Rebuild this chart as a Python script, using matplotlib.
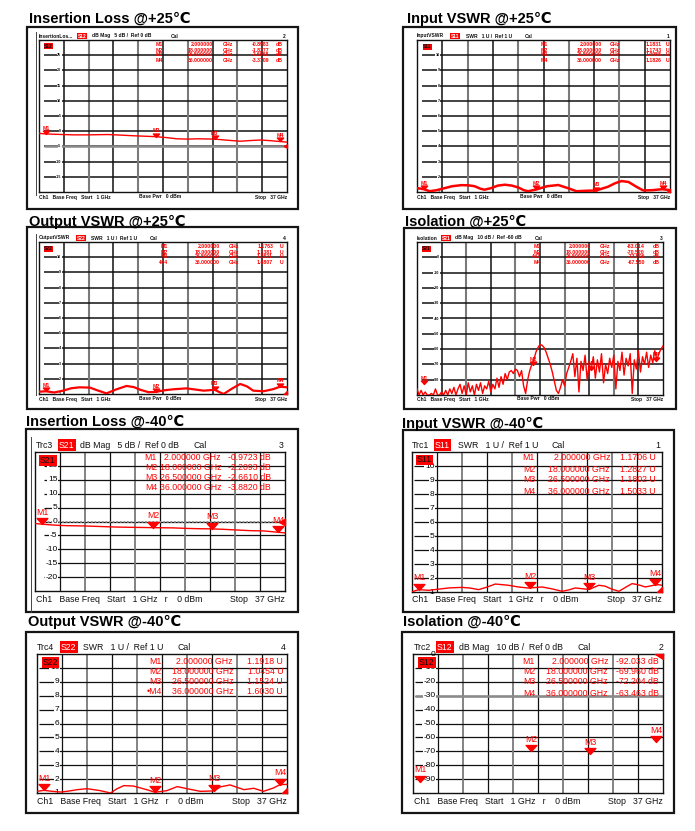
import matplotlib
matplotlib.use('Agg')
import matplotlib.pyplot as plt
from matplotlib.patches import Rectangle
from matplotlib.path import Path
import numpy as np

W, H = 695, 831
plt.rcParams['font.family'] = ['Liberation Sans', 'DejaVu Sans']
RED = '#ff0000'

# sweep (from the footer texts) and marker frequencies
F_START, F_STOP = 1.0, 37.0
mk_freq = [2.0, 18.0, 26.5, 36.0]
mk_names = ['M1', 'M2', 'M3', 'M4']

# ---- +25 C ----
il25_freq = [1.0, 2.0, 4.5, 6.0, 8.0, 11.0, 13.0, 14.7, 18.0, 19.5, 21.0, 22.5, 24.0, 26.5,
             28.0, 30.2, 31.5, 33.1, 34.5, 36.0, 37.0]
il25_db = [-0.7, -0.9, -1.1, -1.2, -1.2, -1.1, -1.3, -1.5, -1.8, -2.1, -2.5, -2.6, -2.5, -2.6,
           -2.9, -3.3, -3.1, -2.9, -3.1, -3.4, -3.6]
il25_mk = [-0.8983, -1.8277, -2.6068, -3.3709]

in25_freq = [1.0, 2.0, 2.8, 3.8, 4.9, 6.0, 7.3, 8.3, 9.2, 10.0, 10.6, 11.5, 12.5, 13.5, 14.5,
             15.4, 16.2, 16.8, 18.0, 19.5, 21.1, 22.5, 23.7, 25.0, 26.5, 28.2, 29.2, 30.1, 31.1,
             32.2, 33.2, 34.5, 35.8, 36.0, 37.0]
in25_swr = [1.26, 1.18, 1.05, 1.12, 1.25, 1.38, 1.45, 1.44, 1.38, 1.22, 1.15, 1.25, 1.42, 1.48,
            1.42, 1.30, 1.12, 1.05, 1.17, 1.38, 1.46, 1.25, 1.05, 1.08, 1.10, 1.35, 1.58, 1.72,
            1.66, 1.35, 1.10, 1.12, 1.18, 1.18, 1.12]
in25_mk = [1.1831, 1.1743, 1.0958, 1.1826]

out25_freq = [1.0, 2.0, 3.2, 4.5, 5.7, 6.9, 8.4, 9.6, 10.8, 12.2, 13.7, 14.8, 15.7, 16.9, 18.0,
              19.3, 20.5, 22.4, 23.6, 24.9, 25.8, 26.5, 27.2, 27.8, 29.0, 30.2, 31.2, 32.1, 33.6,
              35.0, 36.0, 37.0]
out25_swr = [1.15, 1.18, 1.10, 1.22, 1.38, 1.44, 1.42, 1.22, 1.04, 1.30, 1.53, 1.45, 1.28, 1.12,
             1.14, 1.25, 1.31, 1.37, 1.30, 1.22, 1.25, 1.28, 1.12, 1.00, 1.35, 1.66, 1.50, 1.22,
             1.18, 1.32, 1.48, 1.44]
out25_mk = [1.1763, 1.1381, 1.2821, 1.4807]

# isolation +25: values read along the sweep, 0.3 GHz apart
iso25_db = [-86, -90, -87, -90, -88, -90, -90, -89, -90, -86, -90, -90, -88,
            -90, -87, -90, -86, -89, -85, -90, -86, -83, -89, -84, -90,
            -82, -88, -84, -90, -83, -87, -82, -89, -84, -86, -81, -88,
            -83, -86, -79, -85, -78, -83, -76, -80, -75,
            -74, -76, -73, -74, -78, -74, -84, -89, -80,
            -74, -70, -67, -62, -59, -57, -57.5,
            -59, -62, -66, -70, -75, -81, -87, -89,
            -85, -80, -84, -76, -72, -68,
            -63, -78, -66, -88, -68, -74, -64, -80, -70, -73, -65, -79, -67, -75, -63,
            -82, -70, -76, -66, -72, -64, -86, -68, -74, -62, -77, -66, -71, -63, -89,
            -67, -73, -61, -75, -65, -70, -62, -72, -64, -69, -61, -67, -63, -60, -58]
iso25_freq = np.linspace(F_START, F_STOP, len(iso25_db))
iso25_mk = [-83.014, -70.520, -73.506, -67.550]

# ---- -40 C ----
il40_freq = [1.0, 2.0, 3.2, 4.5, 5.6, 8.0, 10.4, 12.8, 15.0, 18.0, 20.9, 23.0, 24.8, 26.5, 28.0,
             29.6, 32.0, 34.0, 36.0, 37.0]
il40_db = [-0.7, -0.97, -1.2, -1.4, -1.5, -1.6, -1.8, -2.0, -2.1, -2.21, -2.3, -2.5, -2.6, -2.66,
           -2.8, -3.0, -3.3, -3.4, -3.88, -4.1]
il40_mk = [-0.9723, -2.2093, -2.6610, -3.8820]

in40_freq = [1.0, 2.0, 3.4, 4.8, 6.3, 8.2, 9.4, 10.6, 11.8, 13.0, 14.9, 16.3, 17.8, 19.7, 21.2,
             22.6, 23.6, 24.5, 26.5, 27.9, 28.8, 29.8, 30.8, 31.8, 32.7, 33.7, 34.6, 35.5, 36.0,
             36.5, 37.0]
in40_swr = [1.02, 1.17, 1.12, 1.20, 1.29, 1.33, 1.28, 1.17, 1.35, 1.57, 1.48, 1.36, 1.28, 1.36,
            1.22, 1.05, 1.15, 1.29, 1.18, 1.48, 1.42, 1.20, 1.05, 1.35, 1.60, 1.50, 1.36, 1.45,
            1.50, 1.52, 1.48]
in40_mk = [1.1706, 1.2827, 1.1802, 1.5033]

out40_freq = [1.0, 2.0, 3.2, 4.4, 5.6, 6.8, 8.2, 10.1, 11.6, 12.5, 13.5, 14.9, 16.8, 18.0, 19.7,
              21.2, 22.6, 24.5, 26.5, 27.4, 28.8, 30.8, 32.2, 33.6, 35.0, 36.0, 37.0]
out40_swr = [1.12, 1.19, 1.12, 1.07, 1.14, 1.24, 1.31, 1.17, 1.00, 1.30, 1.53, 1.50, 1.24, 1.05,
             1.17, 1.46, 1.31, 1.12, 1.15, 1.44, 1.58, 1.24, 1.34, 1.12, 1.35, 1.60, 1.62]
out40_mk = [1.1918, 1.0454, 1.1524, 1.6030]

iso40_mk = [-92.033, -69.960, -72.204, -63.463]

fig = plt.figure(figsize=(W / 100, H / 100), dpi=100)
bg = fig.add_axes([0, 0, 1, 1])
bg.set_xlim(0, W)
bg.set_ylim(H, 0)
bg.axis('off')

TRI = Path([(-0.9, 1), (0.9, 1), (0, 0), (-0.9, 1)], closed=True)
IND = {
    'left': Path([(0, 0.55), (0, -0.55), (-1, 0), (0, 0.55)], closed=True),
    'bottom': Path([(0, 0), (-1, 0), (0, 1), (0, 0)], closed=True),
    'top': Path([(0, 0), (-1.6, 0), (0, -1), (0, 0)], closed=True),
}

panels = [
    dict(title='Insertion Loss @+25℃', title_xy=(29, 23), box=(27, 27, 298, 209), plot=(39, 40, 287, 192),
         small=True, ylim=(-20, 30), yticks=[25, 20, 15, 10, 5, 0, -5, -10, -15], ref=(-5, 'grey'),
         freq=il25_freq, vals=il25_db, mk=il25_mk, fmt='{:.4f}', unit='dB', lw=1.0, ind=('left', -5),
         header_y=36, header=[('t', 'InsertionLos...', 39), ('box', 'S12', 78),
                              ('t', 'dB Mag   5 dB /  Ref 0 dB', 92), ('t', 'Cal', 171), ('r', '2', 286)],
         table=dict(xm=163, xf=213, xg=223, xv=269, xu=276, rows=[44, 50, 55, 61]),
         footer_y=197, footer=[('t', 'Ch1   Base Freq   Start   1 GHz', 39), ('t', 'Base Pwr   0 dBm', 139),
                               ('r', 'Stop   37 GHz', 287)],
         sbox=('S12', 44, 46), frame=(36, 32, 195), dash0=0.2),
    dict(title='Input VSWR @+25℃', title_xy=(407, 23), box=(403, 27, 676, 209), plot=(417, 40, 670, 192),
         small=True, ylim=(1, 11), yticks=[10, 9, 8, 7, 6, 5, 4, 3, 2, 1], ref=None,
         freq=in25_freq, vals=in25_swr, mk=in25_mk, fmt='{:.4f}', unit='U', lw=1.8, ind=('bottom', 1),
         header_y=36, header=[('t', 'InputVSWR', 417), ('box', 'S11', 451),
                              ('t', 'SWR   1 U /  Ref 1 U', 466), ('t', 'Cal', 525), ('r', '1', 669)],
         table=dict(xm=548, xf=602, xg=610, xv=662, xu=666, rows=[44, 50, 55, 61]),
         footer_y=197, footer=[('t', 'Ch1   Base Freq   Start   1 GHz', 417), ('t', 'Base Pwr   0 dBm', 520),
                               ('r', 'Stop   37 GHz', 670)],
         sbox=('S11', 423, 46.5), frame=None, dash0=0.2),
    dict(title='Output VSWR @+25℃', title_xy=(29, 225.7), box=(27, 227, 298, 409), plot=(39, 242, 287, 394),
         small=True, ylim=(1, 11), yticks=[10, 9, 8, 7, 6, 5, 4, 3, 2, 1], ref=None,
         freq=out25_freq, vals=out25_swr, mk=out25_mk, fmt='{:.4f}', unit='U', lw=1.6, ind=('bottom', 1),
         header_y=238, header=[('t', 'OutputVSWR', 39), ('box', 'S22', 77),
                               ('t', 'SWR   1 U /  Ref 1 U', 91), ('t', 'Cal', 150), ('r', '4', 286)],
         table=dict(xm=168, xf=220, xg=229, xv=273, xu=280, rows=[247, 252, 257, 262], dot=3),
         footer_y=399, footer=[('t', 'Ch1   Base Freq   Start   1 GHz', 39), ('t', 'Base Pwr   0 dBm', 139),
                               ('r', 'Stop   37 GHz', 287)],
         sbox=('S22', 44, 248.5), frame=(36, 234, 395), dash0=0.2),
    dict(title='Isolation @+25℃', title_xy=(405, 225.7), box=(404, 228, 676, 409), plot=(417, 242, 663, 395),
         small=True, ylim=(-90, 10), yticks=[0, -10, -20, -30, -40, -50, -60, -70, -80], ref=None,
         freq=iso25_freq, vals=iso25_db, mk=iso25_mk, fmt='{:.3f}', unit='dB', lw=1.0, ind=None,
         header_y=238, header=[('t', 'Isolation', 417), ('box', 'S21', 442),
                               ('t', 'dB Mag   10 dB /  Ref -60 dB', 455), ('t', 'Cal', 535), ('r', '3', 663)],
         table=dict(xm=541, xf=591, xg=600, xv=645, xu=653, rows=[247, 252, 257, 262], dot=2),
         footer_y=399, footer=[('t', 'Ch1   Base Freq   Start   1 GHz', 417), ('t', 'Base Pwr   0 dBm', 517),
                               ('r', 'Stop   37 GHz', 663)],
         sbox=('S21', 422, 248.5), frame=None, dash0=0.2),
    dict(title='Insertion Loss @-40℃', title_xy=(26, 425.7), box=(26, 429, 298, 612), plot=(35, 452, 285, 591),
         small=False, ylim=(-25, 25), yticks=[20, 15, 10, 5, 0, -5, -10, -15, -20], ref=(0, 'dot'),
         freq=il40_freq, vals=il40_db, mk=il40_mk, fmt='{:.4f}', unit='dB', lw=1.0, ind=('left', 0),
         header_y=445, header=[('t', 'Trc3', 36), ('box', 'S21', 59), ('t', 'dB Mag   5 dB /  Ref 0 dB', 80),
                               ('t', 'Cal', 193), ('r', '3', 284)],
         table=dict(xm=157, xf=221, xv=271, rows=[458, 468, 478, 487]),
         footer_y=599, footer=[('t', 'Ch1   Base Freq   Start   1 GHz   r    0 dBm', 36), ('r', 'Stop   37 GHz', 285)],
         sbox=('S21', 40, 460.5), frame=(31, 437, 612), dash0=0.35),
    dict(title='Input VSWR @-40℃', title_xy=(402, 427.7), box=(403, 430, 674, 612), plot=(412, 452, 662, 592),
         small=False, ylim=(1, 11), yticks=[10, 9, 8, 7, 6, 5, 4, 3, 2, 1], ref=None,
         freq=in40_freq, vals=in40_swr, mk=in40_mk, fmt='{:.4f}', unit='U', lw=1.0, ind=('bottom', 1),
         header_y=445, header=[('t', 'Trc1', 412), ('box', 'S11', 435), ('t', 'SWR   1 U /  Ref 1 U', 458),
                               ('t', 'Cal', 551), ('r', '1', 660)],
         table=dict(xm=535, xf=610, xv=656, rows=[458, 469, 480, 491]),
         footer_y=599, footer=[('t', 'Ch1   Base Freq   Start   1 GHz   r    0 dBm', 412), ('r', 'Stop   37 GHz', 662)],
         sbox=('S11', 417, 460), frame=None, dash0=0.07),
    dict(title='Output VSWR @-40℃', title_xy=(28, 626), box=(26, 632, 298, 813), plot=(37, 654, 287, 793),
         small=False, ylim=(1, 11), yticks=[10, 9, 8, 7, 6, 5, 4, 3, 2, 1], ref=None,
         freq=out40_freq, vals=out40_swr, mk=out40_mk, fmt='{:.4f}', unit='U', lw=1.0, ind=('bottom', 1),
         header_y=647, header=[('t', 'Trc4', 37), ('box', 'S22', 61), ('t', 'SWR   1 U /  Ref 1 U', 83),
                               ('t', 'Cal', 177), ('r', '4', 286)],
         table=dict(xm=162, xf=233, xv=283, rows=[662, 672, 682, 692], dot=3),
         footer_y=801, footer=[('t', 'Ch1   Base Freq   Start   1 GHz   r    0 dBm', 37), ('r', 'Stop   37 GHz', 287)],
         sbox=('S22', 43, 662.5), frame=None, dash0=0.07),
    dict(title='Isolation @-40℃', title_xy=(403, 626), box=(402, 632, 674, 813), plot=(413, 654, 663, 793),
         small=False, ylim=(-100, 0), yticks=[0, -10, -20, -30, -40, -50, -60, -70, -80, -90], ref=(-30, 'grey'),
         freq=None, vals=None, mk=iso40_mk, fmt='{:.3f}', unit='dB', lw=1.0, ind=('top', 0),
         header_y=647, header=[('t', 'Trc2', 414), ('box', 'S12', 437), ('t', 'dB Mag   10 dB /  Ref 0 dB', 459),
                               ('t', 'Cal', 577), ('r', '2', 663)],
         table=dict(xm=535, xf=608, xv=659, rows=[661, 672, 682, 693]),
         footer_y=801, footer=[('t', 'Ch1   Base Freq   Start   1 GHz   r    0 dBm', 414), ('r', 'Stop   37 GHz', 663)],
         sbox=('S12', 419, 662.5), frame=None, dash0=0.07),
]


def draw_panel(p):
    small = p['small']
    fs = 3.6 if small else 6.3
    tfs = 2.6 if small else 6.0
    wt = 'bold' if small else 'normal'
    bx0, by0, bx1, by1 = p['box']
    bg.add_patch(Rectangle((bx0, by0), bx1 - bx0, by1 - by0, fill=False, lw=1.6, ec='#151515'))
    bg.text(*p['title_xy'], p['title'], fontsize=10.5, fontweight='bold', ha='left', va='baseline')
    if p['frame']:
        fx, fy0, fy1 = p['frame']
        bg.plot([fx, fx], [fy0, fy1], color='#444', lw=0.7)

    px0, py0, px1, py1 = p['plot']
    ax = fig.add_axes([px0 / W, 1 - py1 / H, (px1 - px0) / W, (py1 - py0) / H])
    lo, hi = p['ylim']
    ax.set_xlim(F_START, F_STOP)
    ax.set_ylim(lo, hi)
    ax.set_xticks([])
    ax.set_yticks([])
    for s in ax.spines.values():
        s.set_color('#111')
        s.set_linewidth(1.0)
    xdiv = (F_STOP - F_START) / 10
    ydiv = (hi - lo) / 10
    glw = 1.1 if small else 0.9
    for k in range(1, 10):
        grey = k % 2 == 0
        ax.axvline(F_START + k * xdiv, color='#7a7a7a' if grey else '#111',
                   lw=glw + 0.4 if grey else glw, zorder=1)
        ax.hlines(lo + k * ydiv, F_START + p['dash0'] * xdiv, F_STOP, color='#111', lw=glw, zorder=1)
    if p['ref']:
        rv, kind = p['ref']
        if kind == 'dot':
            ax.hlines(rv, F_START + p['dash0'] * xdiv, F_STOP, color='#8a8a8a', lw=1.3,
                      linestyles=(0, (1, 1)), zorder=1.5)
        else:
            ax.hlines(rv, F_START + p['dash0'] * xdiv, F_STOP, color='#8a8a8a', lw=1.8, zorder=1.5)

    for t in p['yticks']:
        edge = t in (lo, hi)
        ax.text(F_START + 0.9 * xdiv, t, f'{t:g}', ha='right', va='center', fontsize=tfs, fontweight=wt,
                zorder=3, clip_on=False,
                bbox=None if edge else dict(boxstyle='square,pad=0.1', fc='white', ec='none'))

    if p['freq'] is not None:
        ax.plot(p['freq'], p['vals'], color=RED, lw=p['lw'], zorder=4)

    ms = 5.0 if small else 8.6
    ax.plot(mk_freq, p['mk'], ls='none', marker=TRI, ms=ms, color=RED, mec=RED, zorder=6, clip_on=False)
    for name, f, v in zip(mk_names, mk_freq, p['mk']):
        ax.annotate(name, (f, v), xytext=(0, 4.2 if small else 8.6), textcoords='offset points',
                    ha='center', va='center', color=RED, fontsize=3.8 if small else 6.3,
                    fontweight=wt, zorder=7, annotation_clip=False)
    if p['ind']:
        kind, rv = p['ind']
        isz = 4.5 if small else {'left': 8.6, 'bottom': 7.2, 'top': 11.5}[kind]
        ax.plot([F_STOP], [rv], ls='none', marker=IND[kind], ms=isz, color=RED, mec=RED,
                zorder=7, clip_on=False)

    T = bg.transData
    # header line
    hy = p['header_y']
    for kind, s, x in p['header']:
        if kind == 'box':
            ax.text(x, hy, s, transform=T, color='white', fontsize=fs, fontweight=wt, ha='left', va='center',
                    clip_on=False, bbox=dict(boxstyle='square,pad=0.12', fc=RED, ec='none'))
        else:
            ax.text(x, hy, s, transform=T, color='#111', fontsize=fs, fontweight=wt, clip_on=False,
                    ha='right' if kind == 'r' else 'left', va='center')
    # trace label inside the grid
    s, sx, sy = p['sbox']
    ax.text(sx, sy, s, transform=T, color='#111', fontsize=fs, fontweight=wt, ha='left', va='center',
            zorder=8, clip_on=False, bbox=dict(boxstyle='square,pad=0.1', fc=RED, ec='none'))
    # marker table
    tb = p['table']
    tfs2 = 3.7 if small else 6.3
    for i, (name, f, v) in enumerate(zip(mk_names, mk_freq, p['mk'])):
        y = tb['rows'][i]
        lab = ('•' + name) if tb.get('dot') == i else name
        kw = dict(transform=T, color=RED, fontsize=tfs2, fontweight=wt, va='center', zorder=8, clip_on=False)
        ax.text(tb['xm'], y, lab, ha='right', **kw)
        val = p['fmt'].format(v)
        if small:
            ax.text(tb['xf'], y, f'{f:.6f}', ha='right', **kw)
            ax.text(tb['xg'], y, 'GHz', ha='left', **kw)
            ax.text(tb['xv'], y, val, ha='right', **kw)
            ax.text(tb['xu'], y, p['unit'], ha='left', **kw)
        else:
            ax.text(tb['xf'], y, f'{f:.6f} GHz', ha='right', **kw)
            ax.text(tb['xv'], y, f'{val} {p["unit"]}', ha='right', **kw)
    # footer line
    fy = p['footer_y']
    for kind, s, x in p['footer']:
        ax.text(x, fy, s, transform=T, color='#111', fontsize=fs, fontweight=wt, clip_on=False,
                ha='right' if kind == 'r' else 'left', va='center')


for p in panels:
    draw_panel(p)

fig.savefig('out.png', dpi=100, facecolor='white')
